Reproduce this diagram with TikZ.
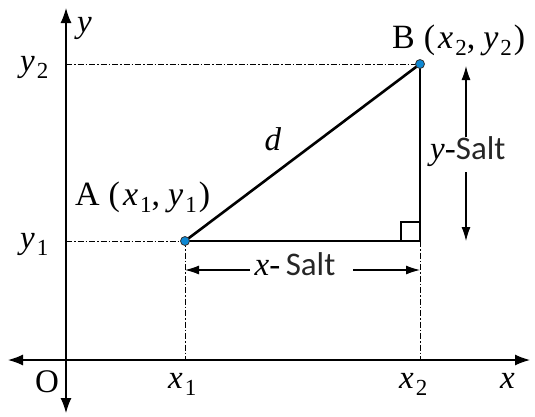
\documentclass[tikz,border=0pt]{standalone}
\usepackage{fontspec}
\setmainfont{Liberation Serif}
\newfontfamily\salt{Carlito}
\usetikzlibrary{arrows.meta}
\newcommand\vv[2]{\textit{#1}\hspace{2pt}\raisebox{-7pt}{\fontsize{23}{24}\selectfont #2}}
\begin{document}
\begin{tikzpicture}[x=1pt,y=-1pt,
  ax/.style={line width=1.3pt,-{Latex[length=15pt,width=11pt]}},
  dsh/.style={line width=0.9pt,dash pattern=on 6pt off 2pt on 1.5pt off 2pt},
  dim/.style={line width=1.1pt,-{Latex[length=14pt,width=9pt]}},
  pt/.style={circle,draw=black!80,fill=cyan!70!blue,line width=0.8pt,inner sep=0pt,minimum size=9pt},
  lbl/.style={font=\fontsize{33}{36}\selectfont,inner sep=0pt},
  big/.style={font=\fontsize{34}{36}\selectfont,inner sep=0pt}]
\useasboundingbox (0,0) rectangle (535,416);
\coordinate (O) at (66,360);
\coordinate (A) at (185,241);
\coordinate (B) at (420,64);
\coordinate (C) at (420,241);
\coordinate (X1) at (185,360);
\coordinate (X2) at (420,360);
\coordinate (Y1) at (66,241);
\coordinate (Y2) at (66,64);
\coordinate (yt) at (66,8);
\coordinate (yb) at (66,413);
\coordinate (xl) at (8,360);
\coordinate (xr) at (530,360);
% axes
\draw[ax] (O) -- (yt);
\draw[ax] (O) -- (yb);
\draw[ax] (O) -- (xl);
\draw[ax] (O) -- (xr);
% dashed
\draw[dsh] (Y2) -- (B);
\draw[dsh] (Y1) -- (A);
\draw[dsh] (A) -- (X1);
\draw[dsh] (C) -- (X2);
% triangle
\draw[line width=1.3pt] (A) -- (C) -- (B);
\draw[line width=1.1pt] (C) rectangle ++(-19,-19);
\draw[line width=2.6pt] (A) -- (B);
\node[pt] at (A) {};
\node[pt] at (B) {};
% dimension x
\node[lbl,anchor=base] (xs) at (295,275) {\textit{x}-\,{\salt\color{black!85}Salt}};
\coordinate (xsl) at (185,270);
\coordinate (xsr) at (420,270);
\coordinate (xsa) at (250,270);
\coordinate (xsb) at (353,270);
\draw[dim] (xsa) -- (xsl);
\draw[dim] (xsb) -- (xsr);
% dimension y
\node[lbl,anchor=base west] (ys) at (430,159) {\textit{y}-{\salt\color{black!85}Salt}};
\coordinate (yst) at (466,66);
\coordinate (ysb) at (466,241);
\coordinate (ysa) at (466,137);
\coordinate (ysc) at (466,172);
\draw[dim] (ysa) -- (yst);
\draw[dim] (ysc) -- (ysb);
% labels
\node[lbl,anchor=base west] at (77,32) {\textit{y}};
\node[lbl,anchor=base west] at (20,71) {\vv{y}{2}};
\node[lbl,anchor=base west] at (20,248) {\vv{y}{1}};
\node[lbl,anchor=base west] at (35,392) {O};
\node[lbl,anchor=base west] at (168,388) {\vv{x}{1}};
\node[lbl,anchor=base west] at (399,388) {\vv{x}{2}};
\node[lbl,anchor=base west] at (500,388) {\textit{x}};
\node[lbl,anchor=base] at (273,150) {\textit{d}};
\node[big,anchor=base west] at (75,205) {A\hspace{9pt}(\hspace{3pt}\vv{x}{1},\hspace{8pt}\vv{y}{1}\hspace{2pt})};
\node[big,anchor=base west] at (392,48) {B\hspace{9pt}(\hspace{3pt}\vv{x}{2},\hspace{8pt}\vv{y}{2}\hspace{2pt})};
\end{tikzpicture}
\end{document}
